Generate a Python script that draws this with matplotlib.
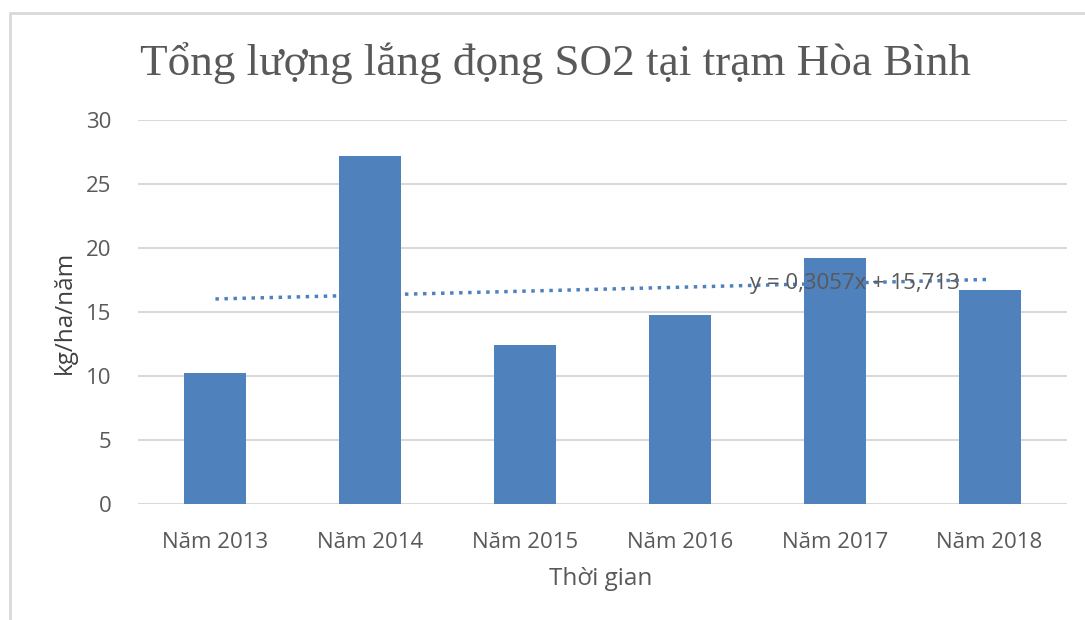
import numpy as np
import matplotlib.pyplot as plt
from matplotlib.patches import Rectangle

# Data
years = ['Năm 2013', 'Năm 2014', 'Năm 2015', 'Năm 2016', 'Năm 2017', 'Năm 2018']
so2 = [10.2, 27.2, 12.4, 14.8, 19.2, 16.7]
trend_slope = 0.3057
trend_intercept = 15.713

bar_color = '#4F81BD'
text_color = '#595959'
grid_color = '#D9D9D9'

plt.rcParams['font.family'] = ['Open Sans', 'DejaVu Sans']

fig = plt.figure(figsize=(10.85, 6.2), dpi=100)
ax = fig.add_axes([138 / 1085, 1 - 504 / 620, 929 / 1085, 384 / 620])

# chart frame (cropped on right and bottom in the original)
fig.patches.append(Rectangle((10 / 1085, -0.05), 1.1, 1 - 13 / 620 + 0.05,
                             transform=fig.transFigure, fill=False,
                             edgecolor='#D9D9D9', linewidth=2))

x = np.arange(1, len(years) + 1)
ax.bar(x, so2, width=0.4, color=bar_color, zorder=3)

# linear trendline
trend_y = trend_slope * x + trend_intercept
ax.plot(x, trend_y, linestyle=(0, (1, 1.6)), color=bar_color, linewidth=2.5, zorder=4)
ax.text(5.13, 17.2, 'y = 0,3057x + 15,713', color=text_color, fontsize=16,
        va='center', ha='center', zorder=5)

ax.set_xlim(0.5, len(years) + 0.5)
ax.set_ylim(0, 30)
ax.set_yticks(range(0, 31, 5))
ax.set_xticks(x)
ax.set_xticklabels(years)
ax.yaxis.grid(True, color=grid_color, linewidth=1.5, zorder=0)
for s in ax.spines.values():
    s.set_visible(False)
ax.tick_params(axis='both', length=0, labelsize=16, labelcolor=text_color)
ax.tick_params(axis='x', pad=20)
ax.tick_params(axis='y', pad=19)

# axis titles
fig.text(601 / 1085, 1 - 579 / 620, 'Thời gian', fontsize=17.5, color=text_color,
         ha='center', va='center')
fig.text(65 / 1085, 1 - 312 / 620, 'kg/ha/năm', fontsize=17.5, color='#404040',
         rotation=90, ha='center', va='center')

fig.text(555 / 1085, 1 - 63 / 620, 'Tổng lượng lắng đọng SO2 tại trạm Hòa Bình',
         family='Liberation Serif', fontsize=32.5, color=text_color,
         ha='center', va='center')

fig.savefig('out.png', dpi=100)
